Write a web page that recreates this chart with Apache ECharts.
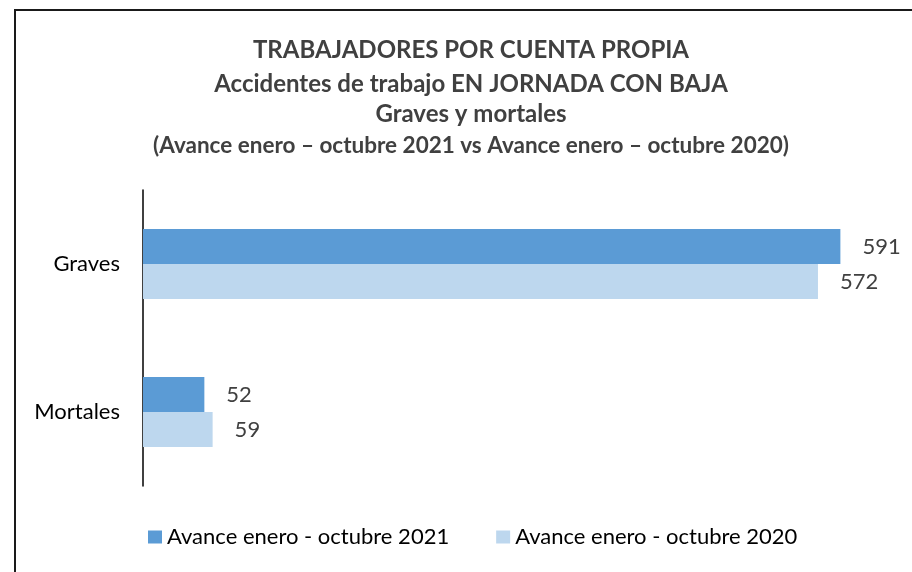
<!DOCTYPE html>
<html>
<head>
<meta charset="utf-8">
<script src="https://cdn.jsdelivr.net/npm/echarts@6/dist/echarts.min.js"></script>
<style>
  html, body { margin: 0; padding: 0; background: #fff; }
  #chart { width: 912px; height: 572px; }
</style>
</head>
<body>
<div id="chart"></div>
<script>
// Accidentes graves y mortales, trabajadores por cuenta propia
const categories = ['Graves', 'Mortales'];
const seriesNames = ['Avance enero - octubre 2021', 'Avance enero - octubre 2020'];
const values2021 = [591, 52];
const values2020 = [572, 59];
const titleLines = [
  'TRABAJADORES POR CUENTA PROPIA',
  'Accidentes de trabajo EN JORNADA CON BAJA',
  'Graves y mortales',
  '(Avance enero \u2013 octubre 2021 vs Avance enero \u2013 octubre 2020)'
];

const FONT = 'Lato';
const chart = echarts.init(document.getElementById('chart'), null, { renderer: 'canvas' });

const titleTops = [33, 67, 97, 129];
const titleSizes = [24, 24, 24, 22.5];

const labelStyle = {
  show: true,
  position: 'right',
  distance: 22,
  fontFamily: FONT,
  fontSize: 22,
  color: '#404040'
};

chart.setOption({
  backgroundColor: '#ffffff',
  animation: false,
  title: titleLines.map((t, i) => ({
    text: t,
    left: 466,
    textAlign: 'center',
    top: titleTops[i],
    textStyle: { fontFamily: FONT, fontWeight: 'bold', fontSize: titleSizes[i], color: '#404040' }
  })),
  legend: {
    left: 143,
    top: 521,
    itemWidth: 14,
    itemHeight: 13,
    itemGap: 47,
    icon: 'rect',
    textStyle: { fontFamily: FONT, fontSize: 22, color: '#000000' },
    data: seriesNames
  },
  grid: { left: 143, right: 2, top: 190, bottom: 86, containLabel: false },
  xAxis: {
    type: 'value',
    min: 0,
    max: 650,
    show: false
  },
  yAxis: {
    type: 'category',
    data: categories,
    inverse: true,
    axisLine: { show: true, lineStyle: { color: '#000000', width: 1.5 } },
    axisTick: { show: false },
    axisLabel: { fontFamily: FONT, fontSize: 22, color: '#000000', margin: 23 }
  },
  series: [
    {
      name: seriesNames[0],
      type: 'bar',
      data: values2021,
      barWidth: 35,
      barGap: '0%',
      itemStyle: { color: '#5B9BD5' },
      label: labelStyle
    },
    {
      name: seriesNames[1],
      type: 'bar',
      data: values2020,
      barWidth: 35,
      barGap: '0%',
      itemStyle: { color: '#BDD7EE' },
      label: labelStyle
    }
  ],
  graphic: [
    // outer frame (left and top edges)
    { type: 'line', shape: { x1: 15, y1: 10, x2: 15, y2: 572 }, style: { stroke: '#1a1a1a', lineWidth: 2 } },
    { type: 'line', shape: { x1: 14, y1: 10, x2: 912, y2: 10 }, style: { stroke: '#1a1a1a', lineWidth: 2 } }
  ]
});
</script>
</body>
</html>
